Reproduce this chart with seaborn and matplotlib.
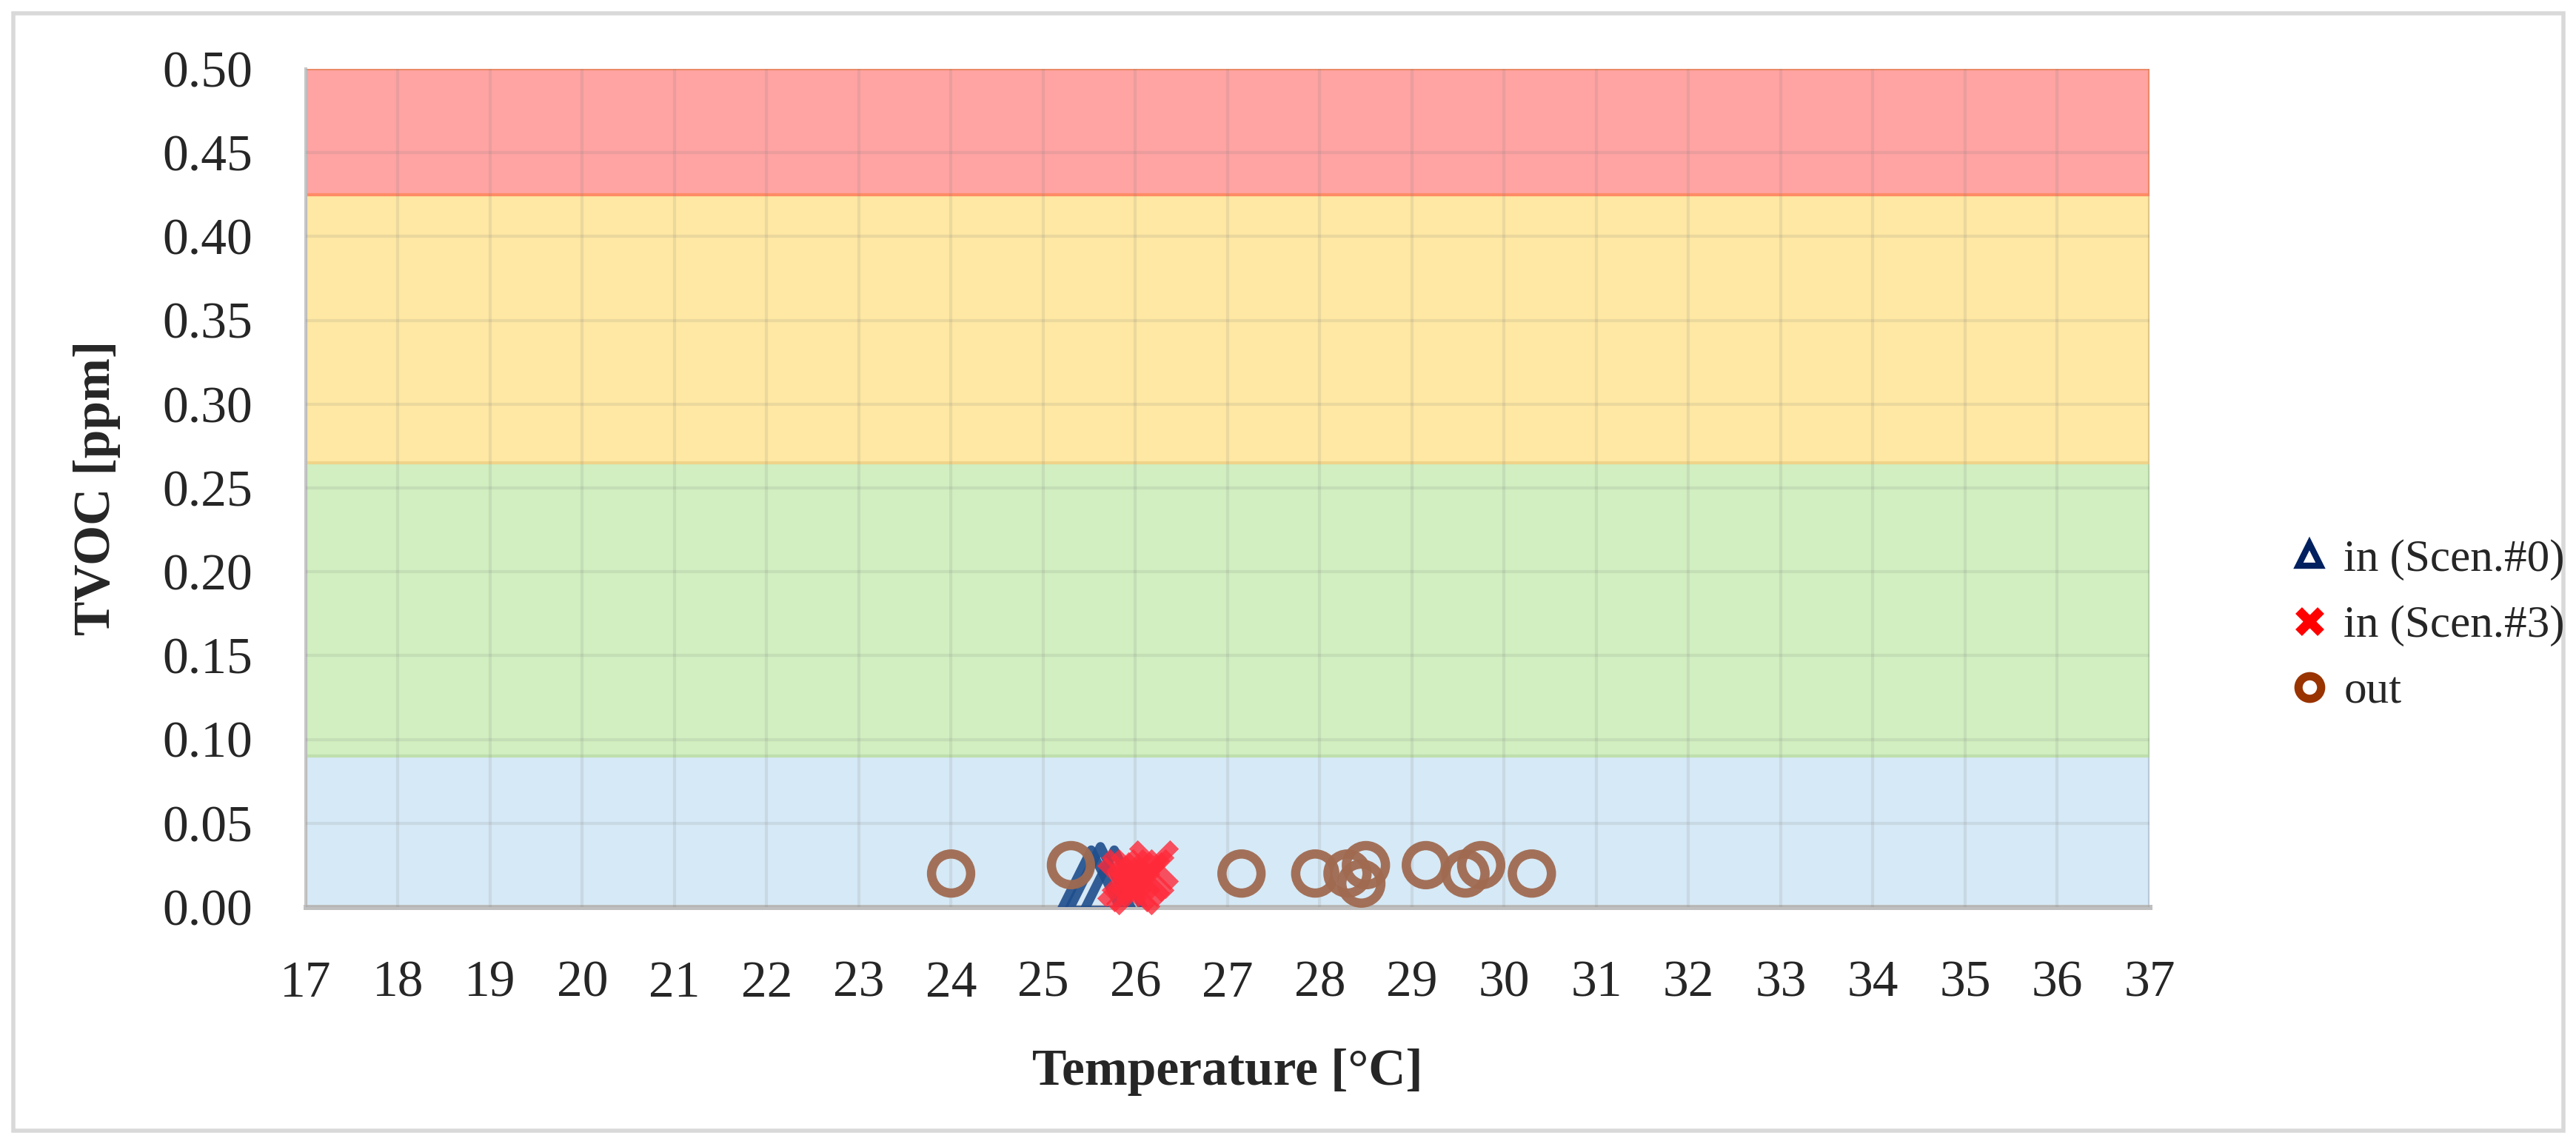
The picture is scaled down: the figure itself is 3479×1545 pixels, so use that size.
import numpy as np
import pandas as pd
import matplotlib
matplotlib.use("Agg")
import matplotlib.pyplot as plt
import seaborn as sns
from matplotlib.lines import Line2D
from matplotlib.patches import Rectangle

# band limits (ppm) and colours
band_edges = [0.0, 0.09, 0.265, 0.425, 0.5]
band_colors = ["#d6e9f6", "#d1efc0", "#ffe8a3", "#ffa3a3"]
band_edge_colors = ["#c4d8e8", "#bfdfae", "#f0d48a", "#ff8c66"]

# indoor, scenario #0
temp_s0 = [25.52, 25.62, 25.77]
tvoc_s0 = [0.015, 0.017, 0.015]

# indoor, scenario #3
temp_s3 = [25.85, 25.9, 25.95, 26.0, 26.0, 26.05, 26.1, 26.15, 26.2]
tvoc_s3 = [0.015, 0.02, 0.012, 0.02, 0.01, 0.015, 0.018, 0.02, 0.025]

# outdoor
temp_out = [24.0, 25.3, 27.15, 27.95, 28.3, 28.45, 28.5, 29.15, 29.58, 29.75, 30.3]
tvoc_out = [0.02, 0.025, 0.02, 0.02, 0.02, 0.014, 0.025, 0.025, 0.02, 0.025, 0.02]

x_ticks = list(range(17, 38))
y_ticks = [0.0, 0.05, 0.10, 0.15, 0.20, 0.25, 0.30, 0.35, 0.40, 0.45, 0.50]

sns.set_theme(style="white")
plt.rcParams['font.family'] = ['Liberation Serif', 'DejaVu Serif']

fig = plt.figure(figsize=(34.8, 15.45), dpi=100)
ax = fig.add_axes([413 / 3480, 1 - 1225 / 1545, (2903 - 413) / 3480, (1225 - 93) / 1545])

for lo, hi, c, ec in zip(band_edges[:-1], band_edges[1:], band_colors, band_edge_colors):
    ax.axhspan(lo, hi, facecolor=c, edgecolor=ec, lw=3, zorder=0)

ax.set_axisbelow(False)
ax.grid(True, color="#7f7f7f", alpha=0.15, lw=3, zorder=1)

df_s0 = pd.DataFrame({"t": temp_s0, "v": tvoc_s0})
df_s3 = pd.DataFrame({"t": temp_s3, "v": tvoc_s3})
df_out = pd.DataFrame({"t": temp_out, "v": tvoc_out})

sns.scatterplot(data=df_s0, x="t", y="v", ax=ax, marker="^", s=62 ** 2,
                facecolor="none", edgecolor="#1f4e8c", linewidth=9, alpha=0.9,
                zorder=3)
sns.scatterplot(data=df_s3, x="t", y="v", ax=ax, marker="x", s=40 ** 2,
                color="#ff2a3a", linewidth=12, alpha=0.8, zorder=4, clip_on=False)
sns.scatterplot(data=df_out, x="t", y="v", ax=ax, marker="o", s=38 ** 2,
                facecolor="none", edgecolor="#a06a50", linewidth=9, alpha=0.95,
                zorder=5, clip_on=False)

ax.set_xlim(17, 37)
ax.set_ylim(0, 0.5)
ax.set_xticks(x_ticks)
ax.set_yticks(y_ticks)
ax.set_yticklabels([f"{v:.2f}" for v in y_ticks])
ax.tick_params(axis="both", labelsize=50, pad=52, length=0)

ax.set_xlabel("Temperature [°C]", fontsize=50, fontweight="bold", labelpad=40)
ax.set_ylabel("TVOC [ppm]", fontsize=50, fontweight="bold", labelpad=40)

for side in ["top", "right"]:
    ax.spines[side].set_visible(False)
ax.spines["left"].set_color("#c8c8c8")
ax.spines["left"].set_linewidth(3)
ax.spines["bottom"].set_color("#bfbfbf")
ax.spines["bottom"].set_linewidth(5)

handles = [
    Line2D([], [], ls="none", marker="^", ms=22, mfc="none", mec="#002060", mew=6),
    Line2D([], [], ls="none", marker="x", ms=22, color="#ff0000", mew=9),
    Line2D([], [], ls="none", marker="o", ms=22, mfc="none", mec="#993300", mew=8),
]
fig.legend(handles, ["in (Scen.#0)", "in (Scen.#3)", "out"], loc="center left",
           bbox_to_anchor=(3040 / 3480, 1 - 845 / 1545), frameon=False,
           fontsize=44, handlelength=0.8, handletextpad=0.35, labelspacing=0.55)

fig.patches.append(Rectangle((18 / 3480, 18 / 1545), 3444 / 3480, 1509 / 1545,
                             transform=fig.transFigure, fill=False,
                             edgecolor="#d9d9d9", lw=4))

fig.savefig("out.png", dpi=100)
